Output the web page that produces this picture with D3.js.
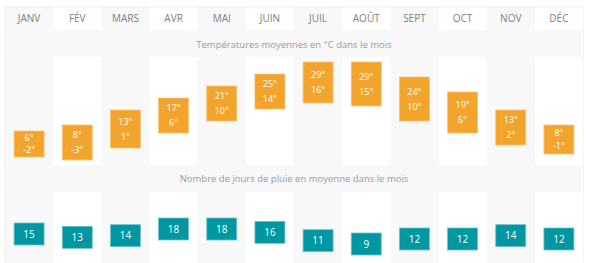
<!DOCTYPE html>
<html>
<head>
<meta charset="utf-8">
<script src="https://cdn.jsdelivr.net/npm/d3@7"></script>
<style>
  body { margin: 0; background: #fff; }
  svg { display: block; font-family: "Open Sans", sans-serif; }
</style>
</head>
<body>
<script>
(function() {

    var months = ["JANV", "FÉV", "MARS", "AVR", "MAI", "JUIN", "JUIL", "AOÛT", "SEPT", "OCT", "NOV", "DÉC"];
    var tempHigh = [6, 8, 13, 17, 21, 25, 29, 29, 24, 19, 13, 8];
    var tempLow = [-2, -3, 1, 6, 10, 14, 16, 15, 10, 6, 2, -1];
    var rainDays = [15, 13, 14, 18, 18, 16, 11, 9, 12, 12, 14, 12];

    var tempTitle = "Températures moyennes en °C dans le mois",
        rainTitle = "Nombre de jours de pluie en moyenne dans le mois";

    var width = 589,
        height = 263;

    var svg = d3.select("body")
        .append("svg")
        .attr("width", width)
        .attr("height", height);

    // columns
    var x = d3.scaleBand()
        .domain(months)
        .range([5, 583]);

    // temperature: top of box = high, bottom = low
    var yTemp = d3.scaleLinear()
        .domain([-3, 29])
        .range([159, 63]);

    // rain: top of the box
    var yRain = d3.scaleLinear()
        .domain([9, 18])
        .range([233, 218]);

    var boxW = 30;

    // alternating column background
    svg.append("rect")
        .attr("x", 5).attr("y", 7)
        .attr("width", 578).attr("height", 270)
        .attr("fill", "#f8f8f8")
        .attr("stroke", "#ececec");

    svg.selectAll(".col")
        .data(months.filter(function(d, i) { return i % 2 == 1; }))
        .enter().append("rect")
        .attr("class", "col")
        .attr("x", function(d) { return x(d); })
        .attr("y", 7.5)
        .attr("width", x.bandwidth())
        .attr("height", 270)
        .attr("fill", "#fff");

    // title bands cover the columns
    svg.append("rect")
        .attr("x", 5.5).attr("y", 30)
        .attr("width", 577).attr("height", 27)
        .attr("fill", "#f8f8f8");
    svg.append("rect")
        .attr("x", 5.5).attr("y", 165)
        .attr("width", 577).attr("height", 27)
        .attr("fill", "#f8f8f8");

    // month headers
    svg.selectAll(".month")
        .data(months)
        .enter().append("text")
        .attr("class", "month")
        .attr("x", function(d) { return x(d) + x.bandwidth() / 2; })
        .attr("y", 22)
        .attr("text-anchor", "middle")
        .attr("font-size", "10px")
        .attr("fill", "#808080")
        .text(function(d) { return d; });

    svg.append("text")
        .attr("x", 294).attr("y", 47.5)
        .attr("text-anchor", "middle")
        .attr("font-size", "9.5px")
        .attr("fill", "#9a9a9a")
        .text(tempTitle);

    svg.append("text")
        .attr("x", 294).attr("y", 181.5)
        .attr("text-anchor", "middle")
        .attr("font-size", "9.5px")
        .attr("fill", "#9a9a9a")
        .text(rainTitle);

    // temperature boxes
    var temps = months.map(function(m, i) {
        return { month: m, high: tempHigh[i], low: tempLow[i] };
    });

    var tg = svg.selectAll(".temp")
        .data(temps)
        .enter().append("g")
        .attr("class", "temp");

    tg.append("rect")
        .attr("x", function(d) { return x(d.month) + (x.bandwidth() - boxW) / 2; })
        .attr("y", function(d) { return yTemp(d.high) - 1; })
        .attr("width", boxW)
        .attr("height", function(d) { return yTemp(d.low) - yTemp(d.high) + 2; })
        .attr("fill", "#f3a42c")
        .attr("stroke", "#f8c47a")
        .attr("stroke-width", 0.8);

    function gap(d) {
        var h = yTemp(d.low) - yTemp(d.high) + 2;
        return h >= 35 ? 15 : 12.5;
    }
    function mid(d) {
        return (yTemp(d.high) + yTemp(d.low)) / 2;
    }

    tg.append("text")
        .attr("x", function(d) { return x(d.month) + x.bandwidth() / 2; })
        .attr("y", function(d) { return mid(d) - gap(d) / 2 + 3.2; })
        .attr("text-anchor", "middle")
        .attr("font-size", "9px")
        .attr("fill", "#fff")
        .text(function(d) { return d.high + "°"; });

    tg.append("text")
        .attr("x", function(d) { return x(d.month) + x.bandwidth() / 2; })
        .attr("y", function(d) { return mid(d) + gap(d) / 2 + 3.2; })
        .attr("text-anchor", "middle")
        .attr("font-size", "9px")
        .attr("fill", "#fff")
        .text(function(d) { return d.low + "°"; });

    // rain boxes
    var rain = months.map(function(m, i) {
        return { month: m, days: rainDays[i] };
    });

    var rg = svg.selectAll(".rain")
        .data(rain)
        .enter().append("g")
        .attr("class", "rain");

    rg.append("rect")
        .attr("x", function(d) { return x(d.month) + (x.bandwidth() - boxW) / 2; })
        .attr("y", function(d) { return yRain(d.days); })
        .attr("width", boxW)
        .attr("height", 22)
        .attr("fill", "#0097a2")
        .attr("stroke", "#6fc3c9")
        .attr("stroke-width", 0.8);

    rg.append("text")
        .attr("x", function(d) { return x(d.month) + x.bandwidth() / 2; })
        .attr("y", function(d) { return yRain(d.days) + 14.5; })
        .attr("text-anchor", "middle")
        .attr("font-size", "10px")
        .attr("fill", "#fff")
        .text(function(d) { return d.days; });

})();
</script>
</body>
</html>
